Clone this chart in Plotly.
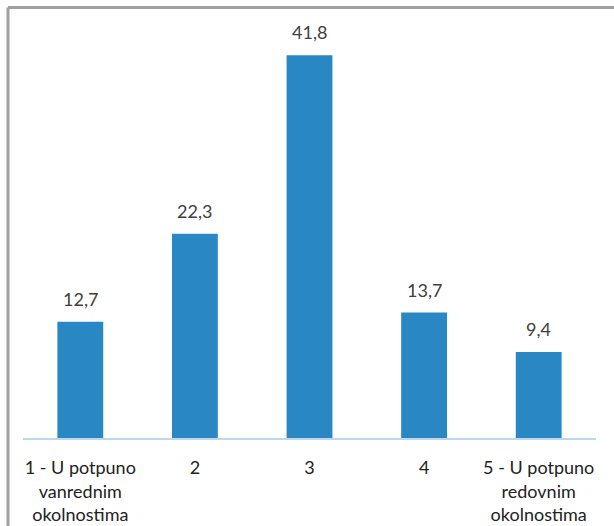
import plotly.graph_objects as go

categories = ["1 - U potpuno<br>vanrednim<br>okolnostima", "2", "3", "4",
              "5 - U potpuno<br>redovnim<br>okolnostima"]
values = [12.7, 22.3, 41.8, 13.7, 9.4]

FONT = "Lato, Carlito, Calibri, sans-serif"
TXT = "#404040"

fig = go.Figure()
fig.add_trace(go.Bar(
    x=categories, y=values,
    marker=dict(color="#2987c4", line=dict(width=0)),
    hoverinfo="skip",
))

for i, v in enumerate(values):
    fig.add_annotation(x=i, y=v, text=f"{v:.1f}".replace(".", ","),
                       showarrow=False, yanchor="bottom", yshift=10,
                       font=dict(family=FONT, size=18, color=TXT))

# outer border (left and top)
L, R, T, B = 23, 18, 14, 88
W, H = 614, 526
pw, ph = W - L - R, H - T - B
bx = (8 - L) / pw
by = (H - B - 7.5) / ph
fig.add_shape(type="line", xref="paper", yref="paper", x0=bx, x1=bx, y0=-0.5, y1=by,
              line=dict(color="#a0a0a0", width=3))
fig.add_shape(type="line", xref="paper", yref="paper", x0=bx, x1=1.2, y0=by, y1=by,
              line=dict(color="#a0a0a0", width=3))

fig.update_layout(
    width=W, height=H,
    margin=dict(l=L, r=R, t=T, b=B),
    paper_bgcolor="white", plot_bgcolor="white",
    bargap=0.6,
    showlegend=False,
    font=dict(family=FONT, size=18, color=TXT),
    xaxis=dict(showline=True, linecolor="#bdd7ee", linewidth=1.5, ticks="",
               showgrid=False, zeroline=False, automargin=False,
               ticklabelstandoff=13,
               tickfont=dict(family=FONT, size=18, color="#222222")),
    yaxis=dict(range=[0, 46.3], visible=False, showgrid=False, zeroline=False,
               automargin=False),
)

fig.write_html("out.html", config={"displayModeBar": False},
               post_script="document.body.style.margin='0';document.body.style.overflow='hidden';")
